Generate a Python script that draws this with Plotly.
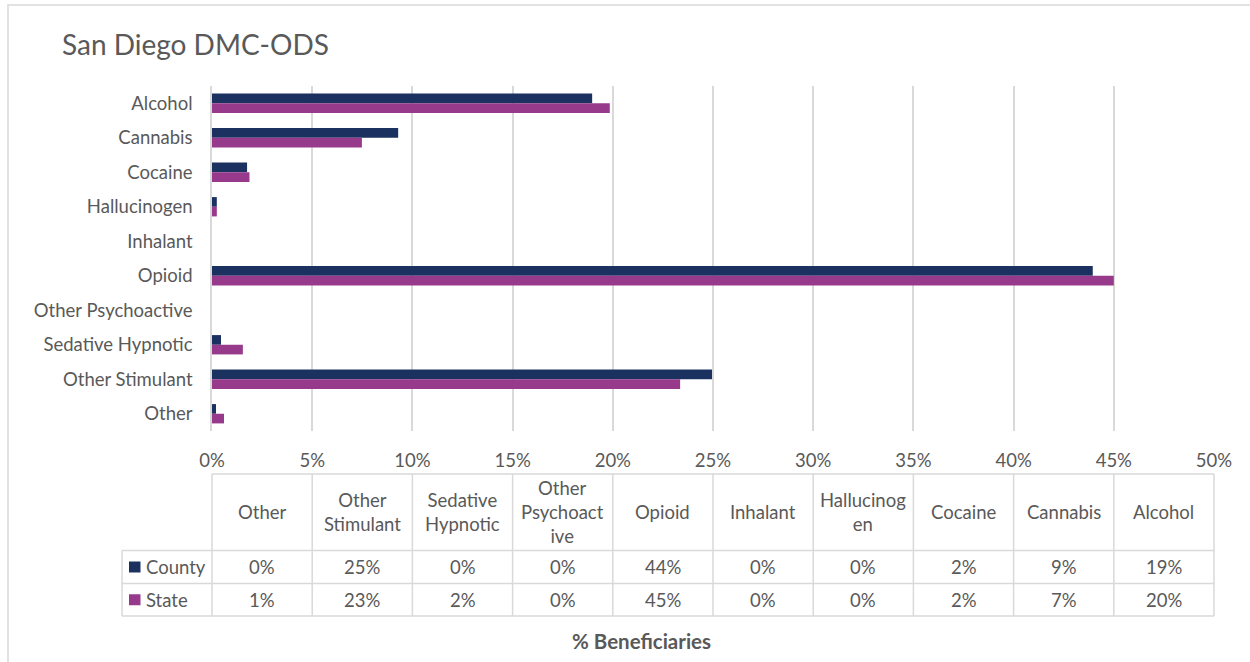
import plotly.graph_objects as go

# Substance categories, top to bottom
categories = ["Alcohol", "Cannabis", "Cocaine", "Hallucinogen", "Inhalant", "Opioid",
              "Other Psychoactive", "Sedative Hypnotic", "Other Stimulant", "Other"]
# Share of beneficiaries (%)
county = [18.97, 9.29, 1.75, 0.24, 0.0, 43.95, 0.0, 0.45, 24.95, 0.20]
state = [19.85, 7.48, 1.87, 0.24, 0.0, 45.00, 0.0, 1.54, 23.36, 0.60]
# Column headings of the data table (wrapped as rendered), in table order
table_headers = ["Other", "Other<br>Stimulant", "Sedative<br>Hypnotic", "Other<br>Psychoact<br>ive",
                 "Opioid", "Inhalant", "Hallucinog<br>en", "Cocaine", "Cannabis", "Alcohol"]
x_ticks = [0, 5, 10, 15, 20, 25, 30, 35, 40, 45, 50]
series_names = ["County", "State"]
series_colors = ["#1B3260", "#973A8B"]

FONT = "Lato, 'Open Sans', sans-serif"
GREY = "#595959"
LINE = "#D9D9D9"
TXT = 18.5

W, H = 1250, 662
L, R, T, B = 212, 1214, 86, 431  # plot area in pixels


def px(xp):
    return (xp - L) / (R - L)


def py(yp):
    return (B - yp) / (B - T)


fig = go.Figure()
for name, vals, col in zip(series_names, [county, state], series_colors):
    fig.add_trace(go.Bar(
        y=categories, x=vals, name=name, orientation="h",
        marker=dict(color=col, line=dict(width=0)),
        showlegend=False,
    ))

shapes = []
annotations = []

# outer chart frame
shapes.append(dict(type="rect", xref="paper", yref="paper",
                   x0=px(8), x1=px(1262), y0=py(5), y1=py(680),
                   line=dict(color=LINE, width=1.5)))

# data table under the axis: one column per 5% step
n_cols = len(table_headers)
col_edges = [i / n_cols for i in range(n_cols + 1)]
row_head_left = px(122)
y_top, y_hdr, y_cty, y_bot = py(474), py(550.5), py(583.5), py(616)

line_style = dict(color=LINE, width=1.5)
# horizontal lines
shapes.append(dict(type="line", xref="paper", yref="paper", x0=0, x1=1, y0=y_top, y1=y_top, line=line_style))
for yy in (y_hdr, y_cty, y_bot):
    shapes.append(dict(type="line", xref="paper", yref="paper", x0=row_head_left, x1=1, y0=yy, y1=yy, line=line_style))
# vertical lines
for xe in col_edges:
    shapes.append(dict(type="line", xref="paper", yref="paper", x0=xe, x1=xe, y0=y_top, y1=y_bot, line=line_style))
shapes.append(dict(type="line", xref="paper", yref="paper", x0=row_head_left, x1=row_head_left,
                   y0=y_hdr, y1=y_bot, line=line_style))

# headers and values (table columns run bottom-to-top through the categories)
table_county = county[::-1]
table_state = state[::-1]
row_centers = [(y_hdr + y_cty) / 2, (y_cty + y_bot) / 2]
for i, head in enumerate(table_headers):
    xc = (col_edges[i] + col_edges[i + 1]) / 2
    annotations.append(dict(xref="paper", yref="paper", x=xc, y=(y_top + y_hdr) / 2, text=head,
                            showarrow=False, font=dict(family=FONT, size=TXT, color=GREY),
                            xanchor="center", yanchor="middle", align="center"))
    for yc, vals in zip(row_centers, [table_county, table_state]):
        annotations.append(dict(xref="paper", yref="paper", x=xc, y=yc, text=f"{vals[i]:.0f}%",
                                showarrow=False, font=dict(family=FONT, size=TXT, color=GREY),
                                xanchor="center", yanchor="middle"))

# legend keys inside the row-header cells
for yc, name, col in zip(row_centers, series_names, series_colors):
    half = 5.5 / (B - T)
    shapes.append(dict(type="rect", xref="paper", yref="paper",
                       x0=px(129), x1=px(140.5), y0=yc - half, y1=yc + half,
                       fillcolor=col, line=dict(width=0)))
    annotations.append(dict(xref="paper", yref="paper", x=px(144), y=yc, text=name,
                            showarrow=False, font=dict(family=FONT, size=TXT, color=GREY),
                            xanchor="left", yanchor="middle"))

# axis title
annotations.append(dict(xref="paper", yref="paper", x=px(641), y=py(641),
                        text="<b>% Beneficiaries</b>", showarrow=False,
                        font=dict(family=FONT, size=20.5, color=GREY),
                        xanchor="center", yanchor="middle"))

fig.update_layout(
    width=W, height=H,
    margin=dict(l=L, r=W - R, t=T, b=H - B, pad=0),
    paper_bgcolor="white", plot_bgcolor="white",
    barmode="group", bargap=0.44, bargroupgap=0,
    title=dict(text="San Diego DMC-ODS", x=62 / W, xref="container", xanchor="left",
               y=1 - 45 / H, yref="container", yanchor="middle",
               font=dict(family=FONT, size=28, color=GREY)),
    font=dict(family=FONT, size=TXT, color=GREY),
    shapes=shapes, annotations=annotations,
)
fig.update_xaxes(range=[0, 50], tickvals=x_ticks, ticktext=[f"{t}%" for t in x_ticks],
                 showgrid=True, gridcolor=LINE, gridwidth=1.5, zeroline=False,
                 showline=False, ticks="", ticklabelstandoff=16,
                 tickfont=dict(family=FONT, size=TXT, color=GREY), fixedrange=True)
fig.update_yaxes(autorange="reversed", showgrid=False, showline=True, linecolor=LINE, linewidth=1.5,
                 ticks="", ticklabelstandoff=14,
                 tickfont=dict(family=FONT, size=TXT, color=GREY), fixedrange=True)

fig.write_html("out.html")
